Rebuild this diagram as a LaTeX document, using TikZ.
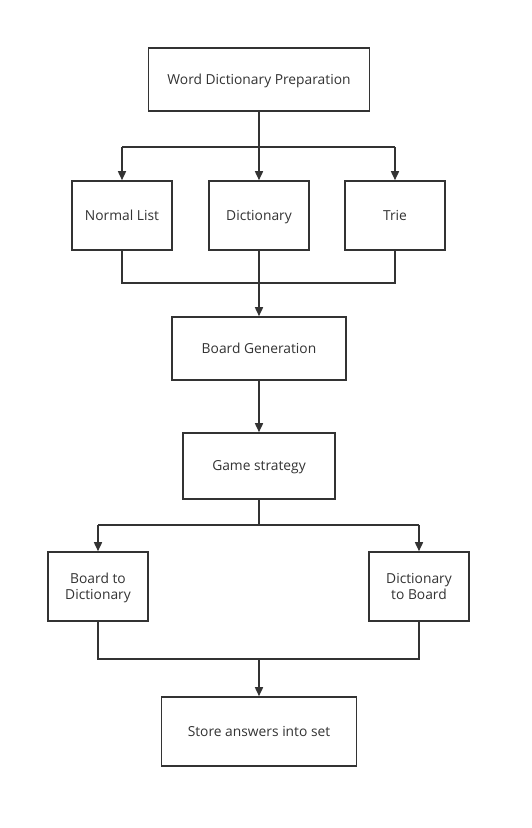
\documentclass[tikz,border=0pt]{standalone}
\usepackage{fontspec}
\setmainfont{Open Sans}
\usetikzlibrary{arrows.meta}
\definecolor{linegray}{HTML}{333333}
\definecolor{textgray}{HTML}{333333}

\begin{document}
\begin{tikzpicture}[x=1pt,y=-1pt,
  box/.style={draw=linegray, line width=1.6pt, align=center, text=textgray,
    minimum width=100pt, minimum height=69pt, inner sep=0pt,
    text height=0.95em, text depth=0pt,
    font=\fontsize{13.8}{16}\selectfont},
  twoline/.style={text height={}, text depth=0pt},
  flow/.style={draw=linegray, line width=1.6pt},
  tip/.style={flow, -{Triangle[length=9pt,width=8pt]}}]
  \useasboundingbox[fill=white] (0,0) rectangle (531,828);
  % boxes
  \node[box, minimum width=221pt, minimum height=63pt] (prep) at (259,79.5) {Word Dictionary Preparation};
  \node[box] (list) at (122,215.5) {Normal List};
  \node[box] (dict) at (259,215.5) {Dictionary};
  \node[box] (trie) at (395,215.5) {Trie};
  \node[box, minimum width=174pt, minimum height=63pt] (gen) at (259,348.5) {Board Generation};
  \node[box, minimum width=152pt, minimum height=66pt] (game) at (259,466) {Game strategy};
  \node[box, twoline] (btod) at (98,586.5) {Board to\\Dictionary};
  \node[box, twoline] (dtob) at (419,586.5) {Dictionary\\to Board};
  \node[box, minimum width=195pt] (store) at (259,731.5) {Store answers into set};
  % junctions
  \coordinate (s1) at (259,147);
  \coordinate (j1) at (259,283);
  \coordinate (s2) at (259,525);
  \coordinate (j2) at (259,659);
  % connectors
  \draw[flow] (prep.south) -- (s1);
  \draw[flow] (list |- s1) -- (trie |- s1);
  \draw[tip] (list |- s1) -- (list.north);
  \draw[tip] (s1) -- (dict.north);
  \draw[tip] (trie |- s1) -- (trie.north);
  \draw[flow] (list.south) -- (list |- j1) -- (trie |- j1) -- (trie.south);
  \draw[flow] (dict.south) -- (j1);
  \draw[tip] (j1) -- (gen.north);
  \draw[tip] (gen.south) -- (game.north);
  \draw[flow] (game.south) -- (s2);
  \draw[flow] (btod |- s2) -- (dtob |- s2);
  \draw[tip] (btod |- s2) -- (btod.north);
  \draw[tip] (dtob |- s2) -- (dtob.north);
  \draw[flow] (btod.south) -- (btod |- j2) -- (dtob |- j2) -- (dtob.south);
  \draw[tip] (j2) -- (store.north);
\end{tikzpicture}
\end{document}
